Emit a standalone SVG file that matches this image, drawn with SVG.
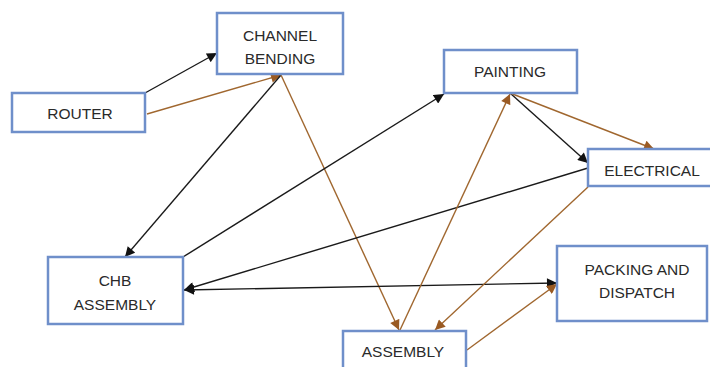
<svg xmlns="http://www.w3.org/2000/svg" width="710" height="367" viewBox="0 0 710 367">
<style>
.box{fill:#ffffff;stroke:#6f8fca;stroke-width:2.5}
.t{font-family:"Liberation Sans",Arial,sans-serif;font-size:15.5px;fill:#2a2a2a;text-anchor:middle}
.k{stroke:#1a1a1a;stroke-width:1.4;fill:none}
.b{stroke:#a0672f;stroke-width:1.4;fill:none}
</style>
<defs>
<marker id="ak" viewBox="0 0 10 10" refX="10" refY="5" markerWidth="11" markerHeight="10" markerUnits="userSpaceOnUse" orient="auto-start-reverse">
<path d="M0,0 L10,5 L0,10 z" fill="#111111"/>
</marker>
<marker id="ab" viewBox="0 0 10 10" refX="10" refY="5" markerWidth="11" markerHeight="10" markerUnits="userSpaceOnUse" orient="auto-start-reverse">
<path d="M0,0 L10,5 L0,10 z" fill="#9a5a22"/>
</marker>
</defs>
<rect width="710" height="367" fill="#ffffff"/>
<g id="connectors">
<line class="k" x1="145" y1="93" x2="217" y2="53" marker-end="url(#ak)"/>
<line class="b" x1="147" y1="114" x2="281" y2="75" marker-end="url(#ab)"/>
<line class="k" x1="281" y1="75" x2="125" y2="257" marker-end="url(#ak)"/>
<line class="b" x1="281" y1="75" x2="399" y2="330" marker-end="url(#ab)"/>
<line class="k" x1="183" y1="257" x2="444" y2="94" marker-end="url(#ak)"/>
<line class="k" x1="510" y1="93" x2="588" y2="163" marker-end="url(#ak)"/>
<line class="b" x1="510" y1="93" x2="654" y2="149" marker-end="url(#ab)"/>
<line class="k" x1="588" y1="168" x2="184" y2="290" marker-end="url(#ak)"/>
<line class="k" x1="184" y1="290" x2="557" y2="283" marker-start="url(#ak)" marker-end="url(#ak)"/>
<line class="b" x1="400" y1="330" x2="510" y2="94" marker-end="url(#ab)"/>
<line class="b" x1="588" y1="187" x2="435" y2="330" marker-end="url(#ab)"/>
<line class="b" x1="467" y1="350" x2="557" y2="284" marker-end="url(#ab)"/>
</g>
<g id="router">
<rect class="box" x="12" y="93" width="133" height="39"/>
<text class="t" x="80" y="119">ROUTER</text>
</g>
<g id="channel-bending">
<rect class="box" x="217" y="13" width="126" height="61"/>
<text class="t" x="280" y="41">CHANNEL</text>
<text class="t" x="280" y="64">BENDING</text>
</g>
<g id="painting">
<rect class="box" x="444" y="50" width="133" height="43"/>
<text class="t" x="510" y="77">PAINTING</text>
</g>
<g id="electrical">
<rect class="box" x="588" y="149" width="130" height="37"/>
<text class="t" x="652" y="176">ELECTRICAL</text>
</g>
<g id="chb-assembly">
<rect class="box" x="48" y="257" width="135" height="67"/>
<text class="t" x="115" y="286">CHB</text>
<text class="t" x="115" y="310">ASSEMBLY</text>
</g>
<g id="packing-dispatch">
<rect class="box" x="557" y="246" width="150" height="75"/>
<text class="t" x="637" y="275">PACKING AND</text>
<text class="t" x="637" y="298">DISPATCH</text>
</g>
<g id="assembly">
<rect class="box" x="343" y="331" width="123" height="45"/>
<text class="t" x="403" y="357">ASSEMBLY</text>
</g>
</svg>
